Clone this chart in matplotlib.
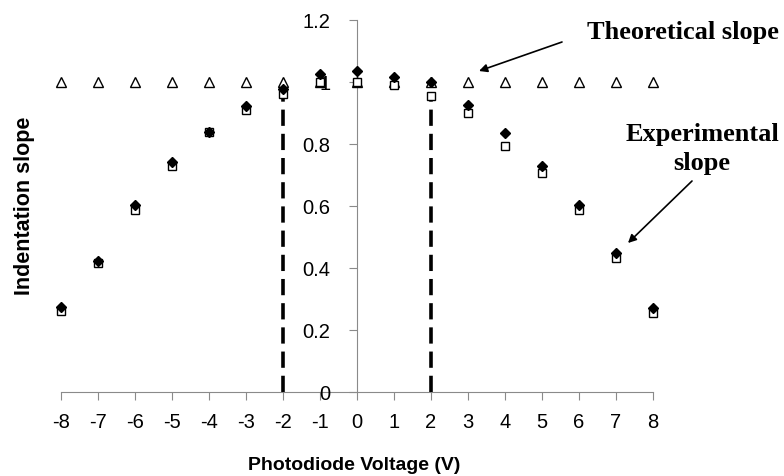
import matplotlib
matplotlib.use("Agg")
import matplotlib.pyplot as plt

voltage = [-8, -7, -6, -5, -4, -3, -2, -1, 0, 1, 2, 3, 4, 5, 6, 7, 8]
theoretical = [1.0] * 17
exp_diamond = [0.274, 0.423, 0.602, 0.741, 0.840, 0.922, 0.976, 1.025, 1.035, 1.015, 1.0, 0.926, 0.836, 0.730, 0.602, 0.447, 0.270]
exp_square = [0.260, 0.415, 0.587, 0.729, 0.838, 0.910, 0.960, 1.000, 1.000, 0.990, 0.955, 0.900, 0.795, 0.706, 0.587, 0.431, 0.255]
dash_x = [-2, 2]
dash_top = [0.965, 0.955]
xticks = list(range(-8, 9))
yticks = [0, 0.2, 0.4, 0.6, 0.8, 1.0, 1.2]
ytick_labels = ["0", "0.2", "0.4", "0.6", "0.8", "1", "1.2"]

plt.rcParams['font.family'] = ['Liberation Sans', 'DejaVu Sans']

W, H = 784, 476
fig = plt.figure(figsize=(W / 100, H / 100), dpi=100)
ax = fig.add_axes([61 / W, 1 - 392 / H, (653 - 61) / W, (392 - 20) / H])

for x, top in zip(dash_x, dash_top):
    ax.plot([x, x], [0, top], color='black', lw=2.6, dashes=(4.5, 2.2), zorder=2)

ax.plot(voltage, theoretical, linestyle='none', marker='^', markersize=6.5,
        markerfacecolor='white', markeredgecolor='black', markeredgewidth=1.0,
        zorder=3, clip_on=False)
ax.plot(voltage, exp_square, linestyle='none', marker='s', markersize=6,
        markerfacecolor='white', markeredgecolor='black', markeredgewidth=1.0,
        zorder=4, clip_on=False)
ax.plot(voltage, exp_diamond, linestyle='none', marker='D', markersize=5.0,
        markerfacecolor='black', markeredgecolor='black', zorder=5, clip_on=False)

ax.set_xlim(-8, 8)
ax.set_ylim(0, 1.2)
ax.spines['top'].set_visible(False)
ax.spines['right'].set_visible(False)
ax.spines['left'].set_position(('data', 0))
for s in ('left', 'bottom'):
    ax.spines[s].set_color('#8a8a8a')
    ax.spines[s].set_linewidth(0.8)
    ax.spines[s].set_zorder(1)

ax.set_xticks(xticks)
ax.set_xticklabels([str(v) for v in xticks])
ax.set_yticks(yticks)
ax.set_yticklabels(ytick_labels)
ax.tick_params(axis='x', direction='out', length=6, width=0.8, color='#8a8a8a', pad=9, labelsize=14.5)
ax.tick_params(axis='y', direction='out', length=6, width=0.8, color='#8a8a8a', pad=13, labelsize=14.5)

fig.text(354 / W, 1 - 465 / H, 'Photodiode Voltage (V)', ha='center', va='center',
         fontsize=14, fontweight='bold')
fig.text(25 / W, 1 - 206 / H, 'Indentation slope', ha='center', va='center',
         rotation=90, fontsize=15.5, fontweight='bold')

serif = ['Liberation Serif', 'DejaVu Serif']
fig.text(683 / W, 1 - 33 / H, 'Theoretical slope', ha='center', va='center',
         fontsize=19, fontweight='bold', family=serif)
fig.text(702 / W, 1 - 149 / H, 'Experimental\nslope', ha='center', va='center',
         fontsize=19, fontweight='bold', family=serif, linespacing=1.35)

arrow = dict(arrowstyle='-|>', color='black', lw=1.2, shrinkA=0, shrinkB=0, mutation_scale=12)
ax.annotate('', xy=(479 / W, 1 - 71 / H), xycoords='figure fraction',
            xytext=(562 / W, 1 - 42 / H), textcoords='figure fraction', arrowprops=arrow)
ax.annotate('', xy=(628 / W, 1 - 243 / H), xycoords='figure fraction',
            xytext=(692 / W, 1 - 181 / H), textcoords='figure fraction', arrowprops=arrow)

fig.savefig('out.png', dpi=100)
